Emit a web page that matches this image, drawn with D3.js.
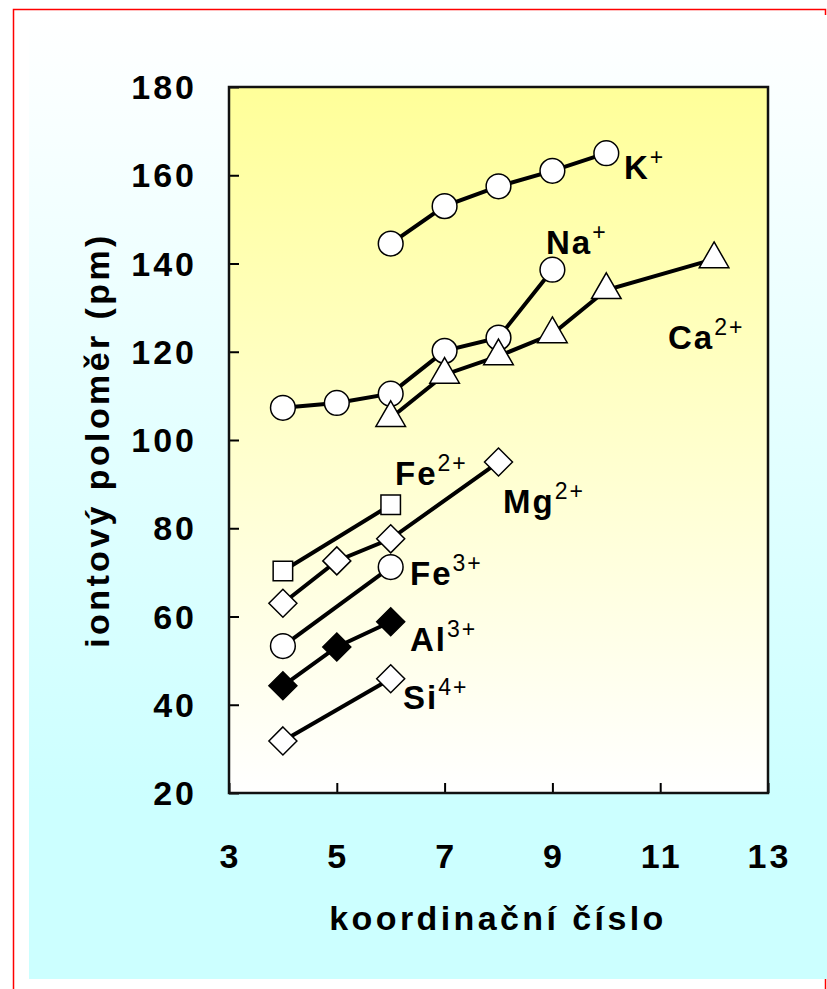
<!DOCTYPE html>
<html>
<head>
<meta charset="utf-8">
<script src="https://d3js.org/d3.v7.min.js"></script>
<style>
  body { margin: 0; background: #ffffff; }
  text { font-family: "Liberation Sans", Arial, sans-serif; font-weight: bold; fill: #000; }
</style>
</head>
<body>
<script>
// Data (coordination number -> ionic radius in pm)
let xTicks = [3, 5, 7, 9, 11, 13];
let yTicks = [20, 40, 60, 80, 100, 120, 140, 160, 180];

let kX = [6, 7, 8, 9, 10];
let kY = [144.5, 153, 157.5, 161, 165];

let naX = [4, 5, 6, 7, 8, 9];
let naY = [107.3, 108.4, 110.5, 120.2, 123.2, 138.6];

let caX = [6, 7, 8, 9, 10, 12];
let caY = [105, 114.8, 119, 124, 134, 141];

let fe2X = [4, 6];
let fe2Y = [70.3, 85.3];

let mgX = [4, 5, 6, 8];
let mgY = [63, 72.6, 77.6, 95];

let fe3X = [4, 6];
let fe3Y = [53.3, 71.2];

let alX = [4, 5, 6];
let alY = [44.3, 53.1, 58.8];

let siX = [4, 6];
let siY = [31.8, 45.9];

let w = 827;
let h = 989;

let svg = d3.select('body')
            .append('svg')
            .attr('width', w)
            .attr('height', h);

let defs = svg.append('defs');

// outer background: white at the top fading to light cyan
let outerGrad = defs.append('linearGradient')
                    .attr('id', 'outerGrad')
                    .attr('gradientUnits', 'userSpaceOnUse')
                    .attr('x1', 0).attr('y1', 15)
                    .attr('x2', 0).attr('y2', 800);
outerGrad.append('stop').attr('offset', 0).attr('stop-color', '#ffffff');
outerGrad.append('stop').attr('offset', 1).attr('stop-color', '#ccffff');

// plot area: yellow at the top fading to white
let plotGrad = defs.append('linearGradient')
                   .attr('id', 'plotGrad')
                   .attr('x1', 0).attr('y1', 0)
                   .attr('x2', 0).attr('y2', 1);
plotGrad.append('stop').attr('offset', 0).attr('stop-color', '#ffff99');
plotGrad.append('stop').attr('offset', 1).attr('stop-color', '#ffffff');

svg.append('rect')
   .attr('x', 13.5).attr('y', 9.5)
   .attr('width', 812).attr('height', 1000)
   .attr('fill', 'none')
   .attr('stroke', '#ff0000')
   .attr('stroke-width', 1.5);

svg.append('rect')
   .attr('x', 29).attr('y', 15)
   .attr('width', w - 29).attr('height', 964)
   .attr('fill', 'url(#outerGrad)');

// plot box
let pLeft = 229, pRight = 768, pTop = 87, pBottom = 793;

let xScale = d3.scaleLinear().domain([3, 13]).range([pLeft, pRight]);
let yScale = d3.scaleLinear().domain([20, 180]).range([pBottom, pTop]);

svg.append('rect')
   .attr('x', pLeft).attr('y', pTop)
   .attr('width', pRight - pLeft).attr('height', pBottom - pTop)
   .attr('fill', 'url(#plotGrad)');

// axes with inward ticks, labels drawn separately
let yAxis = d3.axisRight(yScale).tickValues(yTicks).tickSize(10).tickFormat('');
let xAxis = d3.axisTop(xScale).tickValues(xTicks).tickSize(10).tickFormat('');

svg.append('g')
   .attr('transform', 'translate(' + pLeft + ',0)')
   .call(yAxis)
   .call(g => g.select('.domain').remove())
   .selectAll('line').attr('stroke', '#000').attr('stroke-width', 2);

svg.append('g')
   .attr('transform', 'translate(0,' + pBottom + ')')
   .call(xAxis)
   .call(g => g.select('.domain').remove())
   .selectAll('line').attr('stroke', '#000').attr('stroke-width', 2);

svg.append('rect')
   .attr('x', pLeft).attr('y', pTop)
   .attr('width', pRight - pLeft).attr('height', pBottom - pTop)
   .attr('fill', 'none')
   .attr('stroke', '#111')
   .attr('stroke-width', 2.5);

svg.selectAll('.ylab')
   .data(yTicks)
   .enter()
   .append('text')
   .attr('class', 'ylab')
   .attr('x', 197)
   .attr('y', d => yScale(d) + 12)
   .attr('text-anchor', 'end')
   .style('font-size', '34px')
   .style('letter-spacing', '3px')
   .text(d => d);

svg.selectAll('.xlab')
   .data(xTicks)
   .enter()
   .append('text')
   .attr('class', 'xlab')
   .attr('x', d => xScale(d) + 1.5)
   .attr('y', 868)
   .attr('text-anchor', 'middle')
   .style('font-size', '34px')
   .style('letter-spacing', '3px')
   .text(d => d);

svg.append('text')
   .attr('x', 498)
   .attr('y', 930)
   .attr('text-anchor', 'middle')
   .style('font-size', '34px')
   .style('letter-spacing', '3.4px')
   .text('koordinační číslo');

svg.append('text')
   .attr('transform', 'translate(109,440) rotate(-90)')
   .attr('text-anchor', 'middle')
   .style('font-size', '34px')
   .style('letter-spacing', '3.4px')
   .text('iontový poloměr (pm)');

// series
let series = [
  { xs: kX, ys: kY, shape: 'circle', fill: '#fff' },
  { xs: naX, ys: naY, shape: 'circle', fill: '#fff' },
  { xs: caX, ys: caY, shape: 'triangle', fill: '#fff' },
  { xs: fe2X, ys: fe2Y, shape: 'square', fill: '#fff' },
  { xs: mgX, ys: mgY, shape: 'diamond', fill: '#fff' },
  { xs: fe3X, ys: fe3Y, shape: 'circle', fill: '#fff' },
  { xs: alX, ys: alY, shape: 'diamond', fill: '#000' },
  { xs: siX, ys: siY, shape: 'diamond', fill: '#fff' }
];

let line = d3.line().x(d => xScale(d[0])).y(d => yScale(d[1]));

series.forEach(s => {
  let pts = s.xs.map((x, i) => [x, s.ys[i]]);
  svg.append('path')
     .attr('d', line(pts))
     .attr('fill', 'none')
     .attr('stroke', '#000')
     .attr('stroke-width', 4);
});

let symbolFor = shape => {
  if (shape === 'circle') return d3.symbol(d3.symbolCircle, 480)();
  if (shape === 'triangle') return d3.symbol(d3.symbolTriangle, 380)();
  if (shape === 'square') return d3.symbol(d3.symbolSquare, 380)();
  return 'M0,-14L14,0L0,14L-14,0Z';
};

series.forEach(s => {
  let pts = s.xs.map((x, i) => [x, s.ys[i]]);
  svg.selectAll(null)
     .data(pts)
     .enter()
     .append('path')
     .attr('d', symbolFor(s.shape))
     .attr('transform', d => 'translate(' + xScale(d[0]) + ',' + yScale(d[1]) + ')')
     .attr('fill', s.fill)
     .attr('stroke', '#000')
     .attr('stroke-width', 1.5);
});

// ion labels
let labels = [
  { base: 'K', sup: '+', x: 624, y: 179 },
  { base: 'Na', sup: '+', x: 546, y: 254 },
  { base: 'Ca', sup: '2+', x: 668, y: 349 },
  { base: 'Fe', sup: '2+', x: 395, y: 485 },
  { base: 'Mg', sup: '2+', x: 503, y: 513 },
  { base: 'Fe', sup: '3+', x: 410, y: 585 },
  { base: 'Al', sup: '3+', x: 410, y: 651 },
  { base: 'Si', sup: '4+', x: 403, y: 709 }
];

labels.forEach(l => {
  let t = svg.append('text')
             .attr('x', l.x)
             .attr('y', l.y)
             .style('font-size', '33px')
             .style('letter-spacing', '2px');
  t.append('tspan').text(l.base);
  t.append('tspan')
   .attr('dy', -14)
   .style('font-size', '23px')
   .style('font-weight', 'normal')
   .text(l.sup);
});
</script>
</body>
</html>
